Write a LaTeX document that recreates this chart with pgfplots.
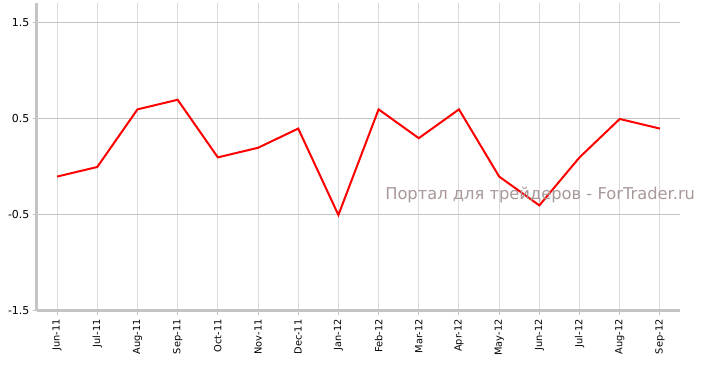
\documentclass[border=0pt]{standalone}
\usepackage{pgfplots}
\pgfplotsset{compat=1.18}
\usepackage{fontspec}
\setmainfont{DejaVu Sans}
\definecolor{gridc}{RGB}{218,218,218}
\definecolor{axc}{RGB}{196,196,196}
\definecolor{wm}{RGB}{168,152,152}
\begin{document}
\begin{tikzpicture}
\useasboundingbox (0pt,0pt) rectangle (701pt,366pt);
\begin{axis}[
  at={(37pt,55pt)}, anchor=south west,
  scale only axis, width=643pt, height=308pt,
  xmin=-0.5, xmax=15.5, ymin=-1.5, ymax=1.708,
  axis x line*=bottom, axis y line*=left,
  axis line style={axc, line width=3pt, -},
  xtick={0,...,15},
  xticklabels={Jun-11,Jul-11,Aug-11,Sep-11,Oct-11,Nov-11,Dec-11,Jan-12,Feb-12,Mar-12,Apr-12,May-12,Jun-12,Jul-12,Aug-12,Sep-12},
  x tick label style={rotate=90, anchor=east, font=\fontsize{9.8}{11}\selectfont, xshift=-1pt},
  ytick={-1.5,-0.5,0.5,1.5},
  yticklabels={-1.5,-0.5,0.5,1.5},
  y tick label style={font=\fontsize{11}{12}\selectfont},
  xmajorgrids, ymajorgrids,
  x grid style={gridc, line width=1pt},
  y grid style={axc, line width=1pt},
  tick style={axc, line width=1pt},
  tick align=outside,
  major tick length=4pt,
  clip=false,
]
\addplot[red, line width=2pt, mark=none] coordinates {
(0,-0.1) (1,0.0) (2,0.6) (3,0.7) (4,0.1) (5,0.2) (6,0.4) (7,-0.5)
(8,0.6) (9,0.3) (10,0.6) (11,-0.1) (12,-0.4) (13,0.1) (14,0.5) (15,0.4)
};
\node[wm, font=\fontsize{16.3}{19}\selectfont] at (axis cs:12.02,-0.29) {Портал для трейдеров - ForTrader.ru};
\end{axis}
\end{tikzpicture}
\end{document}
